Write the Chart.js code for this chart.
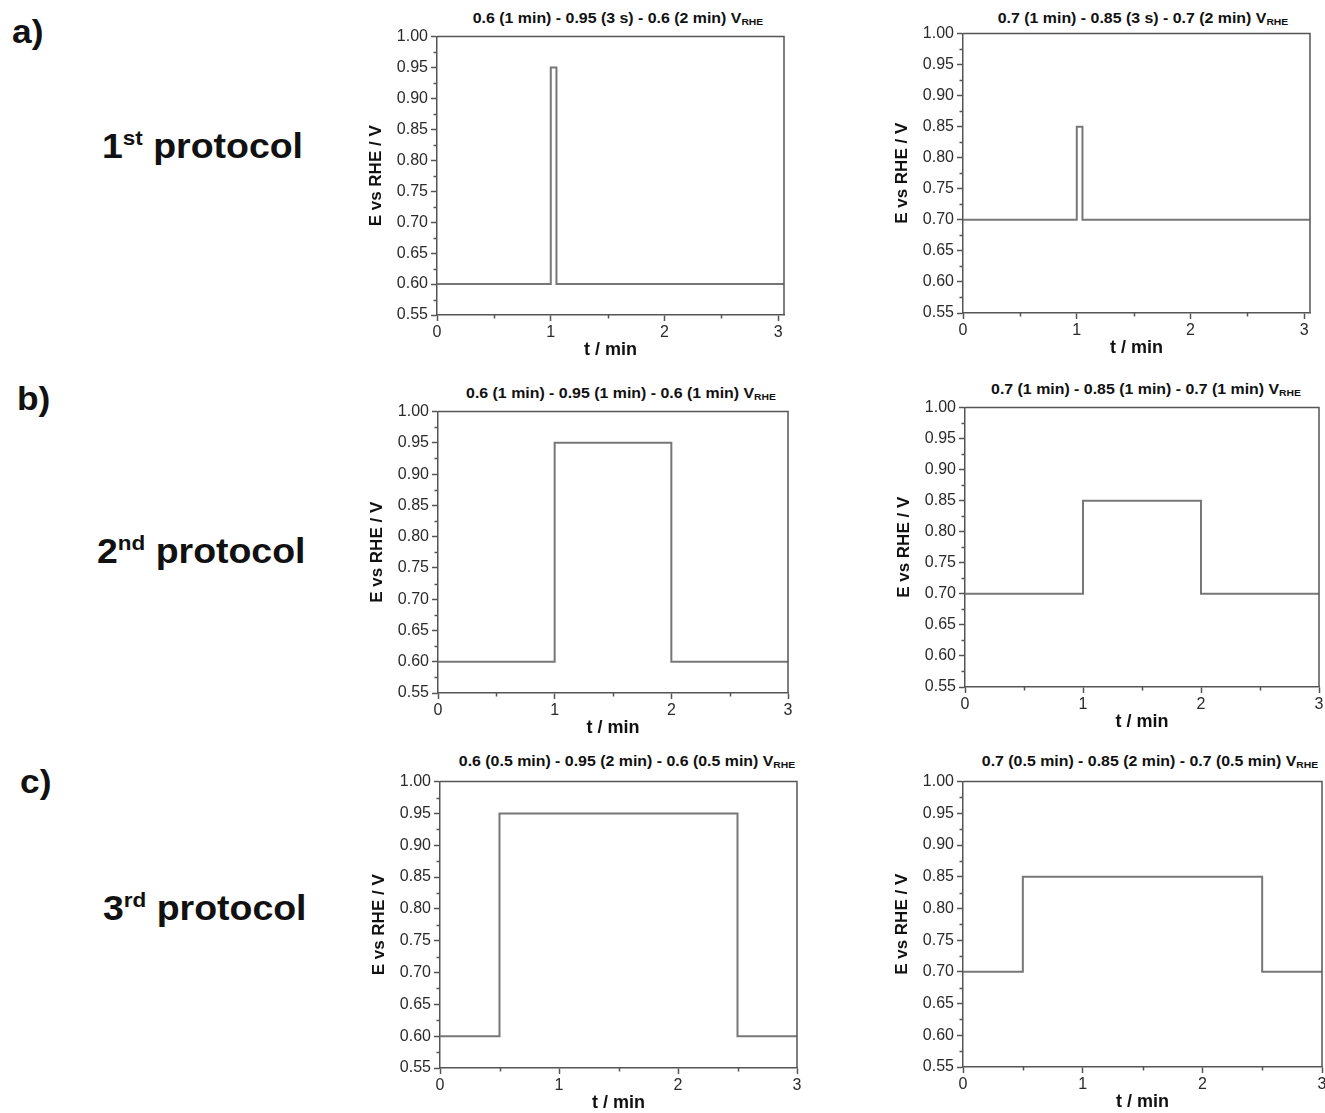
<!DOCTYPE html>
<html lang="en">
<head>
<meta charset="UTF-8">
<title>Potential step protocols</title>
<style>
  body {
    margin: 0;
    background: #fff;
    width: 1325px;
    height: 1113px;
    position: relative;
    overflow: hidden;
    font-family: "Liberation Sans", Arial, sans-serif;
  }
  .lbl {
    position: absolute; font-weight: bold; color: #111; line-height: 1; white-space: nowrap;
    transform: scaleX(1.07); transform-origin: left top;
  }
  .letter { font-size: 33px; }
  .proto { font-size: 35px; }
  .proto sup { font-size: 60%; vertical-align: 0; position: relative; top: -0.62em; }
  .ttl {
    position: absolute; font-size: 15px; font-weight: bold; color: #111;
    transform: translateX(-50%) scaleX(1.06); white-space: nowrap; line-height: 1;
  }
  .ttl sub { font-size: 65%; vertical-align: 0; position: relative; top: 0.25em; }
  canvas { position: absolute; }
</style>
<script src="https://cdn.jsdelivr.net/npm/chart.js"></script>
</head>
<body>
<div class="lbl letter" style="left:12px; top:15px;">a)</div>
<div class="lbl letter" style="left:17px; top:382px;">b)</div>
<div class="lbl letter" style="left:20px; top:765px;">c)</div>
<div class="lbl proto" style="left:102px; top:128px;">1<sup>st</sup> protocol</div>
<div class="lbl proto" style="left:97px; top:533px;">2<sup>nd</sup> protocol</div>
<div class="lbl proto" style="left:103px; top:890px;">3<sup>rd</sup> protocol</div>

<script>
  // titles of the six panels (subscript "RHE" added after each)
  const titles = [
    '0.6 (1 min) - 0.95 (3 s) - 0.6 (2 min) V',
    '0.7 (1 min) - 0.85 (3 s) - 0.7 (2 min) V',
    '0.6 (1 min) - 0.95 (1 min) - 0.6 (1 min) V',
    '0.7 (1 min) - 0.85 (1 min) - 0.7 (1 min) V',
    '0.6 (0.5 min) - 0.95 (2 min) - 0.6 (0.5 min) V',
    '0.7 (0.5 min) - 0.85 (2 min) - 0.7 (0.5 min) V'
  ];

  // time axis (min) of each step program
  const tShort = [0, 1, 1, 1.05, 1.05, 3.05];
  const tMid   = [0, 1, 1, 2, 2, 3];
  const tLong  = [0, 0.5, 0.5, 2.5, 2.5, 3];

  // potential (V vs RHE)
  const eLow  = [0.6, 0.6, 0.95, 0.95, 0.6, 0.6];
  const eHigh = [0.7, 0.7, 0.85, 0.85, 0.7, 0.7];

  // axis ticks
  const yMin = 0.55, yMax = 1.00, yStep = 0.05;
  const xStep = 1;
  const minorY = [0.575, 0.625, 0.675, 0.725, 0.775, 0.825, 0.875, 0.925, 0.975];
  const minorX = [0.5, 1.5, 2.5];

  // plot boxes in page pixels
  const panels = [
    { t: tShort, e: eLow,  xmax: 3.05, L: 437, T: 36,  R: 784,  B: 315,  tx: 618,  ty: 10 },
    { t: tShort, e: eHigh, xmax: 3.05, L: 963, T: 33,  R: 1310, B: 313,  tx: 1143, ty: 10 },
    { t: tMid,   e: eLow,  xmax: 3,    L: 438, T: 411, R: 788,  B: 693,  tx: 621,  ty: 385 },
    { t: tMid,   e: eHigh, xmax: 3,    L: 965, T: 407, R: 1319, B: 687,  tx: 1146, ty: 381 },
    { t: tLong,  e: eLow,  xmax: 3,    L: 440, T: 781, R: 797,  B: 1068, tx: 627,  ty: 753 },
    { t: tLong,  e: eHigh, xmax: 3,    L: 963, T: 781, R: 1322, B: 1067, tx: 1150, ty: 753 }
  ];

  const PAD = { l: 80, t: 12, r: 15, b: 50 };
  const AXIS = '#555';
  const LINE = '#777';
  const FAMILY = '"Liberation Sans", Arial, sans-serif';

  // minor ticks and the top/right frame
  const frameAndMinor = {
    id: 'frameAndMinor',
    afterDraw(chart) {
      const { ctx, chartArea: a } = chart;
      const x = chart.scales.x, y = chart.scales.y;
      ctx.save();
      ctx.strokeStyle = AXIS;
      ctx.lineWidth = 1.5;
      ctx.beginPath();
      minorY.forEach(v => {
        const py = Math.round(y.getPixelForValue(v)) + 0.5;
        ctx.moveTo(a.left, py);
        ctx.lineTo(a.left - 3.5, py);
      });
      minorX.forEach(v => {
        const px = Math.round(x.getPixelForValue(v)) + 0.5;
        ctx.moveTo(px, a.bottom);
        ctx.lineTo(px, a.bottom + 3.5);
      });
      ctx.moveTo(a.left, a.top);
      ctx.lineTo(a.right, a.top);
      ctx.lineTo(a.right, a.bottom);
      ctx.stroke();
      ctx.restore();
    }
  };

  panels.forEach((p, i) => {
    const ttl = document.createElement('div');
    ttl.className = 'ttl';
    ttl.style.left = p.tx + 'px';
    ttl.style.top = p.ty + 'px';
    ttl.innerHTML = titles[i] + '<sub>RHE</sub>';
    document.body.appendChild(ttl);

    const c = document.createElement('canvas');
    c.width = (p.R - p.L) + PAD.l + PAD.r;
    c.height = (p.B - p.T) + PAD.t + PAD.b;
    c.style.left = (p.L - PAD.l) + 'px';
    c.style.top = (p.T - PAD.t) + 'px';
    document.body.appendChild(c);

    new Chart(c, {
      type: 'line',
      data: {
        datasets: [{
          data: p.t.map((tv, k) => ({ x: tv, y: p.e[k] })),
          borderColor: LINE,
          borderWidth: 2,
          pointRadius: 0,
          tension: 0,
          fill: false
        }]
      },
      options: {
        responsive: false,
        animation: false,
        devicePixelRatio: 1,
        layout: { padding: { top: PAD.t, right: PAD.r, left: 0, bottom: 0 } },
        plugins: { legend: { display: false }, tooltip: { enabled: false } },
        scales: {
          x: {
            type: 'linear',
            min: 0,
            max: p.xmax,
            afterFit: s => { s.height = PAD.b; },
            border: { color: AXIS, width: 1.5 },
            grid: { drawOnChartArea: false, tickLength: 6, color: AXIS, tickWidth: 1.5 },
            ticks: {
              stepSize: xStep,
              includeBounds: false,
              autoSkip: false,
              maxRotation: 0,
              padding: 2,
              color: '#2a2a2a',
              font: { size: 16, family: FAMILY },
              callback: v => v
            },
            title: {
              display: true,
              text: 't / min',
              color: '#111',
              font: { size: 18, weight: 'bold', family: FAMILY },
              padding: { top: 0, bottom: 4 }
            }
          },
          y: {
            type: 'linear',
            min: yMin,
            max: yMax,
            afterFit: s => { s.width = PAD.l; },
            border: { color: AXIS, width: 1.5 },
            grid: { drawOnChartArea: false, tickLength: 6, color: AXIS, tickWidth: 1.5 },
            ticks: {
              stepSize: yStep,
              autoSkip: false,
              padding: 3,
              color: '#2a2a2a',
              font: { size: 16, family: FAMILY },
              callback: v => Number(v).toFixed(2)
            },
            title: {
              display: true,
              text: 'E vs RHE / V',
              color: '#111',
              font: { size: 17, weight: 'bold', family: FAMILY },
              padding: { top: 9, bottom: 0 }
            }
          }
        }
      },
      plugins: [frameAndMinor]
    });
  });
</script>
</body>
</html>
